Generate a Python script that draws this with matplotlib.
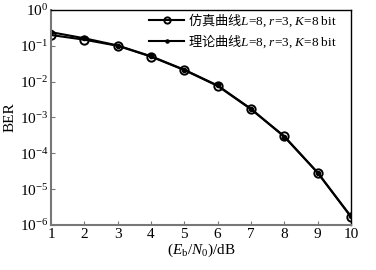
import matplotlib
matplotlib.use('Agg')
import matplotlib.pyplot as plt
import numpy as np

plt.rcParams['font.family'] = ['Liberation Serif', 'Noto Sans CJK SC']
plt.rcParams['mathtext.fontset'] = 'custom'
plt.rcParams['mathtext.rm'] = 'Liberation Serif'
plt.rcParams['mathtext.it'] = 'Liberation Serif:italic'
plt.rcParams['mathtext.sf'] = 'Noto Sans CJK SC'   # used for the Chinese words inside mathtext

snr_db = [1, 2, 3, 4, 5, 6, 7, 8, 9, 10]
ber_sim = [0.20, 0.148, 0.100, 0.050, 0.021, 0.0076, 0.0017, 3.0e-4, 2.9e-5, 1.7e-6]
ber_theory = [0.24, 0.162, 0.102, 0.051, 0.0215, 0.0078, 0.00175, 2.9e-4, 2.9e-5, 1.75e-6]
label_sim = "$\\mathsf{仿真曲线}L$=8, $r$=3, $K$=8 bit"
label_theory = "$\\mathsf{理论曲线}L$=8, $r$=3, $K$=8 bit"

fig = plt.figure(figsize=(3.76, 2.70), dpi=100)
ax = fig.add_axes([0.136, 0.167, 0.797, 0.796])

ax.semilogy(snr_db, ber_sim, 'k-o', lw=1.5, ms=6, mfc='none', mew=1.4, label=label_sim)
ax.semilogy(snr_db, ber_theory, 'k-', marker='.', lw=1.5, ms=6, label=label_theory)

ax.set_xlim(1, 10)
ax.set_ylim(1e-6, 1)
ax.set_xticks(snr_db)
ax.set_yticks([10.0 ** k for k in range(-6, 1)])
ax.minorticks_off()
ax.tick_params(direction='in', length=3, color='#777777', labelsize=11, pad=2)
for side in ['left', 'bottom']:
    ax.spines[side].set_color('#777777')
    ax.spines[side].set_linewidth(1.5)
for side in ['top', 'right']:
    ax.spines[side].set_linewidth(1.0)

ax.set_xlabel("($E_{\\rm b}/N_0$)/dB", fontsize=11, labelpad=1)
ax.set_ylabel("BER", fontsize=11, labelpad=2)

leg = ax.legend(loc='upper right', bbox_to_anchor=(0.957, 1.0), frameon=False, fontsize=9.5,
                handlelength=2.65, handletextpad=0.25, borderaxespad=0.0, borderpad=0.1,
                labelspacing=0.3, markerscale=0.75)

fig.savefig('out.png', dpi=100)
